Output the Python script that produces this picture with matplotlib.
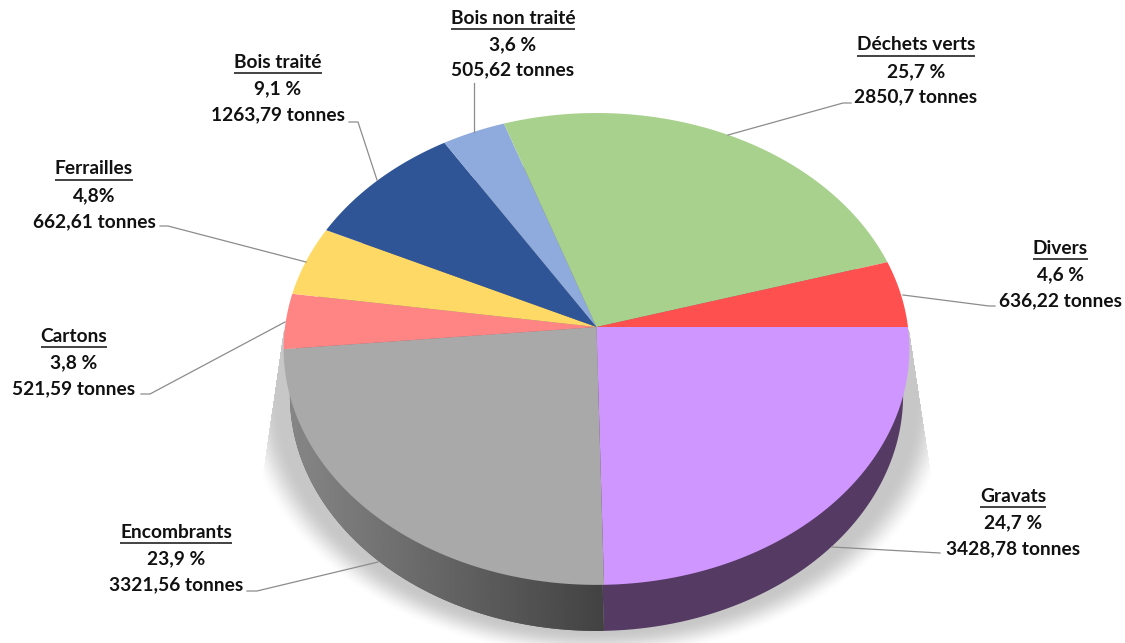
import numpy as np
import matplotlib
matplotlib.use("Agg")
import matplotlib.pyplot as plt
from matplotlib.path import Path
from matplotlib.transforms import Transform, Affine2D

categories = ["Gravats", "Encombrants", "Cartons", "Ferrailles",
              "Bois traité", "Bois non traité", "Déchets verts", "Divers"]
percents = [24.7, 23.9, 3.8, 4.8, 9.1, 3.6, 25.7, 4.6]
percent_labels = ["24,7 %", "23,9 %", "3,8 %", "4,8%", "9,1 %", "3,6 %", "25,7 %", "4,6 %"]
tonnage_labels = ["3428,78 tonnes", "3321,56 tonnes", "521,59 tonnes", "662,61 tonnes",
                  "1263,79 tonnes", "505,62 tonnes", "2850,7 tonnes", "636,22 tonnes"]
top_colors = ["#CF96FF", "#A9A9A9", "#FF8585", "#FFD966",
              "#2F5597", "#8FAADC", "#A9D18E", "#FF5050"]
wall_colors = ["#553A63", "#5A5A5A", "#777777", "#777777",
               "#777777", "#777777", "#777777", "#777777"]

label_x = [1013, 176, 74, 94, 278, 513, 916, 1060.5]
label_y = [(496, 523, 549), (532, 559, 585), (336, 363, 389), (169, 196, 222),
           (62, 89, 115), (18, 45, 70), (45, 72, 97), (248, 275, 301)]
leaders = [
    [(832, 547), (940, 553)],
    [(378, 562), (257, 591), (247, 591)],
    [(285, 322), (150, 394), (141, 394)],
    [(306, 262), (168, 226), (160, 226)],
    [(377, 180), (358, 122), (349, 122)],
    [(474, 83), (474, 132)],
    [(728, 135), (843, 103), (851, 103)],
    [(903, 295), (989, 306), (995, 306)],
]

W, H = 1125, 643
CX, CY, RX, RY, K = 596.5, 327.0, 311.5, 233.9, 0.093


class Perspective(Transform):
    input_dims = output_dims = 2
    is_affine = False
    has_inverse = False

    def transform_non_affine(self, values):
        values = np.asarray(values, dtype=float)
        u, v = values[:, 0], values[:, 1]
        d = 1 + K * v
        return np.column_stack([CX + RX * u / d, CY - RY * v / d])

    def transform_path_non_affine(self, path):
        # flatten the arcs first, so that they stay true under the projection
        poly = path.transformed(Affine2D().scale(2000)).to_polygons(closed_only=False)[0]
        return Path(self.transform_non_affine(poly / 2000))


fig = plt.figure(figsize=(W / 100, H / 100), dpi=100, facecolor="white")
ax = fig.add_axes([0, 0, 1, 1])

persp = Perspective()
lower = persp + (Affine2D().translate(-596.5, -348.5).scale(0.98, 0.998)
                 .translate(596.5, 348.5 + 46.5))

# soft shadow below the pie
yy, xx = np.mgrid[0:H, 0:W] + 0.5
r = np.hypot((xx - 597) / 356, (yy - 395) / 264)
t = np.clip((1.0 - r) / 0.105, 0, 1)
fade = t * t * (3 - 2 * t)
left = 283 - (yy - 335) * 21 / 145
right = 910 + (yy - 335) * 22 / 145
inside = (xx > left) & (xx < right) & (yy > 330)
shade = 1 - 0.22 * fade * inside
ax.imshow(shade, cmap="gray", vmin=0, vmax=1, extent=(0, W, H, 0),
          aspect="auto", zorder=0, interpolation="bilinear")

# side wall: lower disc, seen below the top disc
wall_wedges, _ = ax.pie(percents, colors=wall_colors, startangle=0, counterclock=False)
for w in wall_wedges:
    w.set_transform(lower + ax.transData)
    w.set_zorder(1)
    w.set_linewidth(0)
grad = np.linspace(0.53, 0.26, 256).reshape(1, -1)
im = ax.imshow(grad, cmap="gray", vmin=0, vmax=1, extent=(285, 604, 640, 300),
               aspect="auto", zorder=1.5)
im.set_clip_path(wall_wedges[1])

# top disc
top_wedges, _ = ax.pie(percents, colors=top_colors, startangle=0, counterclock=False)
for w in top_wedges:
    w.set_transform(persp + ax.transData)
    w.set_zorder(2)
    w.set_linewidth(0)

ax.set_aspect("auto")
ax.set_xlim(0, W)
ax.set_ylim(H, 0)
ax.axis("off")

# leader lines
for pts in leaders:
    xs, ys = zip(*pts)
    ax.plot(xs, ys, color="#8c8c8c", lw=0.9, zorder=3, solid_joinstyle="round")

# labels
fig.canvas.draw()
renderer = fig.canvas.get_renderer()
style = dict(family=["Lato", "DejaVu Sans"], weight="bold", fontsize=13.8,
             color="#111111", ha="center", va="center", zorder=4)
inv = ax.transData.inverted()
for name, pct, ton, x, ys in zip(categories, percent_labels, tonnage_labels, label_x, label_y):
    title = ax.text(x, ys[0], name, **style)
    ax.text(x, ys[1], pct, **style)
    ax.text(x, ys[2], ton, **style)
    bb = title.get_window_extent(renderer)
    x0 = inv.transform((bb.x0, 0))[0]
    x1 = inv.transform((bb.x1, 0))[0]
    ax.plot([x0, x1], [ys[0] + 11, ys[0] + 11], color="#222222", lw=1.2, zorder=4,
            solid_capstyle="butt")

fig.savefig("out.png", dpi=100, facecolor="white")
